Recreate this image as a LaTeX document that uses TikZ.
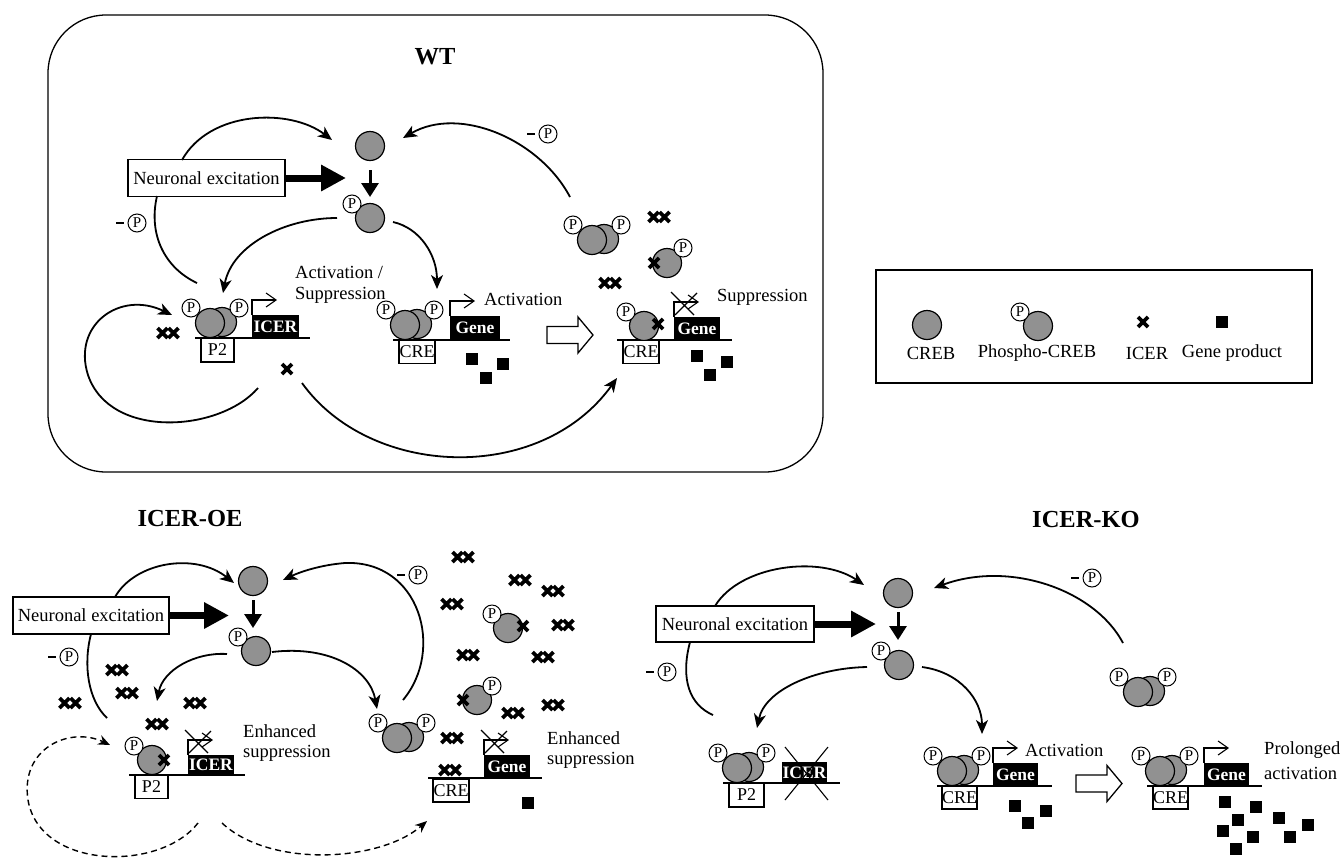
\documentclass[tikz,border=0pt]{standalone}
\usepackage{fontspec}
\setmainfont{Liberation Serif}
\usetikzlibrary{arrows.meta}
\definecolor{crebgray}{RGB}{145,145,145}
\tikzset{
  conn/.style={line width=1.8pt,-{Stealth[length=14pt,width=12pt,inset=4pt]}},
  dconn/.style={line width=1.4pt,dash pattern=on 6pt off 4pt,-{Stealth[length=12pt,width=10pt,inset=4pt]}},
  crebc/.style={circle,draw=black,fill=crebgray,line width=1.2pt,minimum size=29pt,inner sep=0pt},
  pcirc/.style={circle,draw=black,fill=white,line width=1pt,minimum size=18pt,inner sep=0pt,font=\fontsize{15}{15}\selectfont},
  lbl/.style={font=\fontsize{18.5}{21}\selectfont,inner sep=0pt},
  probox/.style={draw=black,fill=white,line width=1.1pt,minimum width=35pt,minimum height=23pt,inner sep=0pt,font=\fontsize{18}{18}\selectfont},
  genebox/.style={fill=black,text=white,minimum width=46pt,minimum height=23pt,inner sep=0pt,font=\fontsize{17.5}{17.5}\selectfont\bfseries},
  ttl/.style={font=\fontsize{24.5}{24.5}\selectfont\bfseries,inner sep=0pt},
  nebox/.style={draw=black,fill=white,line width=1.2pt,minimum width=157pt,minimum height=37pt,inner sep=0pt,font=\fontsize{18.5}{21}\selectfont},
  thickarr/.style={line width=7pt,-{Triangle[length=25pt,width=25pt]}},
  smallarr/.style={line width=3pt,-{Triangle[length=14pt,width=17pt]}},
  promarr/.style={line width=1.1pt,-{Straight Barb[length=10pt,width=14pt]}},
  plain/.style={line width=1.8pt},
}
\newcommand\crebat[2]{\node[crebc] at (#1,#2) {};}
\newcommand\pat[2]{\node[pcirc] at (#1,#2) {P};}
\newcommand\pcrebat[2]{\crebat{#1}{#2}\pat{#1-18}{#2-14}}
\newcommand\dimerat[2]{\node[crebc] at (#1+12,#2-1) {};\node[crebc] at (#1,#2) {};\pat{#1-19}{#2-15}\pat{#1+29}{#2-15}}
\newcommand\icx[2]{\draw[line width=3.8pt] (#1-5,#2-5) -- (#1+5,#2+5) (#1-5,#2+5) -- (#1+5,#2-5);}
\newcommand\icxx[2]{\icx{#1-5.5}{#2}\icx{#1+5.5}{#2}}
\newcommand\gp[2]{\fill (#1-6,#2-6) rectangle (#1+6,#2+6);}
\newcommand\prom[2]{\draw[promarr] (#1,#2) -- (#1,#2-15) -- (#1+25,#2-15);}
\newcommand\promx[2]{\draw[line width=1.1pt] (#1-3,#2-25) -- (#1+20,#2-2) (#1+1,#2-2) -- (#1+23,#2-24);}
\newcommand\hollowarr[2]{\draw[line width=1.3pt,fill=white] (#1,#2-8.5) -- (#1+31,#2-8.5) -- (#1+31,#2-18) -- (#1+46,#2) -- (#1+31,#2+18) -- (#1+31,#2+8.5) -- (#1,#2+8.5) -- cycle;}
\newcommand\minusP[2]{\draw[line width=1.1pt] (#1-21,#2) -- (#1-13,#2);\pat{#1}{#2}}
\begin{document}
\begin{tikzpicture}[x=1pt,y=-1pt]
\useasboundingbox (0,0) rectangle (1343,857);
% ================= WT =================
\draw[line width=1.3pt,rounded corners=58pt] (48,15) rectangle (823,472);
\node[ttl] (wt) at (435,57) {WT};
\crebat{370}{146}
\draw[smallarr] (370,170) -- (370,197);
\pcrebat{370}{218}
\node[nebox] (ne1) at (206.5,178) {Neuronal excitation};
\draw[thickarr] (ne1.east) -- (346,178);
\draw[conn] (182,160) .. controls (210,110) and (290,108) .. (332,140);
\draw[plain] (157,196) .. controls (148,235) and (165,268) .. (197,283);
\minusP{137}{223}
\draw[conn] (337,218) .. controls (285,218) and (232,245) .. (223,293);
\draw[conn] (393,222) .. controls (420,228) and (437,255) .. (437,289);
\draw[conn] (570,197) .. controls (540,140) and (460,105) .. (403,138);
\minusP{548}{134}
\draw[conn] (258,388) .. controls (220,432) and (110,440) .. (88,375) .. controls (72,325) and (120,290) .. (172,315);
\draw[conn] (302,383) .. controls (370,478) and (540,485) .. (617,378);
% ICER gene
\draw[line width=1.1pt] (195,338) -- (310,338);
\dimerat{210}{323}
\node[probox,minimum width=33pt,minimum height=24pt] at (217.5,350) {P2};
\node[genebox,minimum width=47pt] at (275.5,326.5) {ICER};
\prom{252}{315}
\icxx{168}{333}
\icx{287}{369}
\node[lbl,anchor=west] at (295,272) {Activation /};
\node[lbl,anchor=west] at (295,295) {Suppression};
% activation gene
\draw[line width=1.1pt] (393,340) -- (510,340);
\dimerat{405}{325}
\node[probox,minimum width=36pt] at (417,352) {CRE};
\node[genebox,minimum width=50pt,minimum height=24pt] at (475,328) {Gene};
\prom{450}{316}
\node[lbl,anchor=west] at (484,299) {Activation};
\gp{472}{359}\gp{503}{364}\gp{486}{378}
\hollowarr{547}{335}
% suppression gene
\draw[line width=1.1pt] (617,340) -- (732,340);
\pcrebat{644}{326}
\icx{658}{324}
\node[probox,minimum width=36pt] at (641,352) {CRE};
\node[genebox,minimum width=46pt] at (697,328.5) {Gene};
\prom{674}{317}
\promx{674}{317}
\node[lbl,anchor=west] at (717,297) {Suppression};
\gp{697}{356}\gp{727}{362}\gp{710}{375}
% free molecules
\dimerat{592}{240}
\icxx{659}{217}
\icxx{610}{283}
\crebat{667}{263}\pat{683}{248}\icx{654}{263}
% ================= Legend =================
\draw[line width=1.3pt] (876,270) rectangle (1312,383);
\crebat{927}{325}
\node[lbl] at (931,353) {CREB};
\pcrebat{1038}{326}
\node[lbl] at (1037,353) {Phospho-CREB};
\icx{1143}{322}
\node[lbl] at (1147,353) {ICER};
\gp{1222}{322}
\node[lbl] at (1232,353) {Gene product};
% ================= ICER-OE =================
\node[ttl] (oe) at (190,518) {ICER-OE};
\crebat{253}{581}
\draw[smallarr] (253,600) -- (253,628);
\pcrebat{256}{651}
\node[nebox,minimum width=156pt] (ne2) at (91,615.5) {Neuronal excitation};
\draw[thickarr] (ne2.east) -- (229,615.5);
\draw[conn] (115,597) .. controls (135,562) and (195,552) .. (234,583);
\draw[plain] (91,634) .. controls (83,665) and (88,700) .. (107,718);
\minusP{69}{657}
\draw[conn] (227,654) .. controls (195,652) and (163,670) .. (157,701);
\draw[conn] (272,652) .. controls (330,645) and (370,670) .. (377,709);
\draw[conn] (403,700) .. controls (445,650) and (420,560) .. (345,563) .. controls (320,565) and (300,572) .. (283,580);
\minusP{418}{575}
\icxx{117}{670}\icxx{127}{693}\icxx{70}{703}\icxx{195}{703}\icxx{157}{724}
% OE ICER gene
\draw[line width=1.1pt] (129,775) -- (245,775);
\pcrebat{152}{760}
\icx{164}{760}
\node[probox,minimum width=33pt] at (151.5,787) {P2};
\node[genebox,minimum width=46pt,minimum height=20pt] at (211,765) {ICER};
\prom{188}{755}
\promx{188}{755}
\node[lbl,anchor=west] at (243,731) {Enhanced};
\node[lbl,anchor=west] at (243,753) {suppression};
\draw[dconn] (198,823) .. controls (160,872) and (40,870) .. (28,800) .. controls (20,748) and (70,726) .. (110,745);
\draw[dconn] (222,823) .. controls (270,868) and (380,862) .. (427,821);
% OE free + gene
\dimerat{397}{738}
\crebat{508}{628}\pat{492}{614}\icx{523}{626}
\crebat{477}{700}\pat{492}{686}\icx{463}{700}
\icxx{463}{557}\icxx{520}{580}\icxx{553}{591}\icxx{452}{604}\icxx{563}{625}
\icxx{468}{655}\icxx{543}{657}\icxx{553}{705}\icxx{513}{713}\icxx{452}{738}
\draw[line width=1.1pt] (428,778) -- (542,778);
\icxx{450}{770}
\node[probox,minimum width=36pt] at (451,790.5) {CRE};
\node[genebox,minimum width=46pt] at (507,766.5) {Gene};
\prom{484}{755}
\promx{484}{755}
\node[lbl,anchor=west] at (547,738) {Enhanced};
\node[lbl,anchor=west] at (547,760) {suppression};
\gp{528}{803}
% ================= ICER-KO =================
\node[ttl] (ko) at (1086,519) {ICER-KO};
\crebat{898}{593}
\draw[smallarr] (898,612) -- (898,640);
\pcrebat{899}{665}
\node[nebox,minimum width=158pt,minimum height=36pt] (ne3) at (735,624) {Neuronal excitation};
\draw[thickarr] (ne3.east) -- (876,624);
\draw[conn] (715,606) .. controls (740,565) and (820,555) .. (864,585);
\draw[plain] (690,642) .. controls (680,680) and (690,705) .. (713,715);
\minusP{667}{672}
\draw[conn] (867,667) .. controls (815,668) and (765,690) .. (757,728);
\draw[conn] (922,667) .. controls (960,672) and (982,700) .. (982,734);
\draw[conn] (1123,643) .. controls (1095,590) and (1010,560) .. (934,588);
\minusP{1092}{578}
% KO ICER
\draw[line width=1.1pt] (723,783) -- (840,783);
\dimerat{737}{768}
\node[probox,minimum width=35pt,minimum height=24pt] at (746.5,795) {P2};
\node[genebox,minimum width=45pt,minimum height=21pt] at (804.5,772.5) {ICER};
\draw[line width=1.1pt] (785,747) -- (828,800) (785,800) -- (828,747);
% KO activation
\draw[line width=1.1pt] (937,786) -- (1052,786);
\dimerat{952}{771}
\node[probox,minimum width=35pt] at (959.5,797.5) {CRE};
\node[genebox,minimum width=45pt] at (1015.5,774.5) {Gene};
\prom{993}{763}
\node[lbl,anchor=west] at (1025,750) {Activation};
\gp{1015}{806}\gp{1046}{811}\gp{1028}{823}
\hollowarr{1076}{783.5}
% KO prolonged
\draw[line width=1.1pt] (1147,786) -- (1262,786);
\dimerat{1160}{771}
\node[probox,minimum width=35pt] at (1170.5,797.5) {CRE};
\node[genebox,minimum width=45pt] at (1226.5,774.5) {Gene};
\prom{1204}{763}
\node[lbl,anchor=west] at (1264,750) {Prolonged};
\node[lbl,anchor=west] at (1264,773) {activation};
\gp{1225}{802}\gp{1256}{807}\gp{1238}{820}\gp{1223}{831}\gp{1253}{837}
\gp{1279}{818}\gp{1308}{825}\gp{1290}{837}\gp{1236}{849}
\dimerat{1138}{692}
\end{tikzpicture}
\end{document}
